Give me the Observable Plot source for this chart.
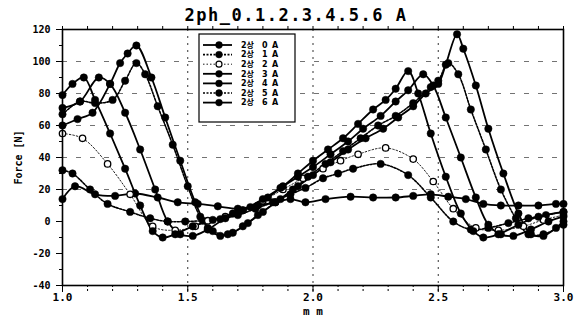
<!DOCTYPE html>
<html><head><meta charset="utf-8">
<script src="https://cdn.jsdelivr.net/npm/d3@7"></script>
<script src="https://cdn.jsdelivr.net/npm/@observablehq/plot@0.6"></script>
<style>body{margin:0;background:#fff}#chart{width:574px;height:320px}</style>
</head><body><div id="chart"></div>
<script>
const titleText = "2ph_0.1.2.3.4.5.6 A";
const xLabel = "m m";
const seriesPrefix = "2상";
const seriesCurrents = ["0", "1", "2", "3", "4", "5", "6"];
const seriesUnit = "A";
const xTicks = [1.0, 1.5, 2.0, 2.5, 3.0];
const yTicks = [-40, -20, 0, 20, 40, 60, 80, 100, 120];

const x0 = [1.0,1.05,1.13,1.21,1.29,1.38,1.46,1.54,1.62,1.70,1.78,1.85,1.91,1.97,2.05,2.15,2.24,2.33,2.40,2.47,2.54,2.61,2.68,2.75,2.82,2.90,2.97,3.0];
const f0 = [14,22,17,16,17.5,15,12,11,9.5,8,10,12,14,12,14,15.5,15,15,16,17,15.5,14,11,10,10,10,11,11];

const x1 = [1.0,1.04,1.11,1.18,1.27,1.35,1.42,1.49,1.56,1.63,1.70,1.77,1.84,1.91,1.97,2.04,2.10,2.16,2.27,2.38,2.47,2.56,2.63,2.70,2.78,2.86,2.93,3.0];
const f1 = [32,30,20,11,6,2,0,0,0.5,1.5,4,8,12,17,21,27,30,33,36,29,15,0,-5,-4,-1,2,4,6];

const x2 = [1.0,1.08,1.18,1.27,1.36,1.45,1.53,1.58,1.65,1.72,1.80,1.88,1.96,2.04,2.11,2.18,2.29,2.40,2.48,2.56,2.65,2.74,2.84,2.92,3.0];
const f2 = [55,52,36,17,-3,-5.5,-3,0.5,3,7,13,20,27,33,38,42,46,39,25,8,-4,-5.5,-3,1,4];

const x3 = [1.0,1.04,1.085,1.13,1.19,1.25,1.31,1.36,1.40,1.45,1.52,1.60,1.68,1.75,1.82,1.88,1.94,2.0,2.06,2.12,2.18,2.24,2.29,2.33,2.38,2.42,2.47,2.53,2.59,2.64,2.68,2.74,2.82,2.90,3.0];
const f3 = [79,86,90,76,55,33,10,-6,-10,-8,-3,1,5,9,15,22,30,38,45,52,61,70,76,83,94,80,55,28,5,-6,-10,-8,-2,3,6];

const x4 = [1.0,1.07,1.145,1.19,1.25,1.31,1.37,1.42,1.47,1.52,1.58,1.65,1.72,1.80,1.87,1.94,2.0,2.07,2.14,2.20,2.27,2.33,2.38,2.44,2.48,2.53,2.59,2.65,2.70,2.75,2.80,2.87,2.94,3.0];
const f4 = [71,75,90,86,68,45,20,0,-8,-9,-5,2,7,14,21,28,34,42,50,58,66,75,82,92,85,65,40,15,-2,-8,-9,-5,0,3];

const x5 = [1.0,1.07,1.13,1.20,1.25,1.295,1.33,1.38,1.44,1.50,1.55,1.60,1.66,1.72,1.78,1.85,1.92,1.98,2.05,2.12,2.19,2.26,2.33,2.40,2.47,2.50,2.54,2.58,2.63,2.69,2.75,2.81,2.86,2.92,3.0];
const f5 = [67,75,74,76,88,99,92,72,48,22,3,-6,-8,-3,4,12,20,28,36,44,52,60,66,74,84,88,99,92,70,45,20,2,-8,-8,-2];

const x6 = [1.0,1.06,1.12,1.19,1.23,1.26,1.295,1.355,1.41,1.47,1.53,1.58,1.63,1.68,1.74,1.80,1.87,1.94,2.0,2.07,2.14,2.21,2.28,2.34,2.40,2.45,2.50,2.53,2.575,2.60,2.65,2.70,2.76,2.82,2.87,2.92,2.97,3.0];
const f6 = [60,64,68,86,99,105,110,90,65,38,12,-4,-9,-7,-1,6,14,22,29,37,45,52,58,65,72,80,86,98,117,108,85,58,30,5,-8,-9,-4,0];

const xs = [x0,x1,x2,x3,x4,x5,x6];
const fs = [f0,f1,f2,f3,f4,f5,f6];
const styles = [
  {w:1.8, dash:null, hollow:false},
  {w:1.6, dash:"2,1.5", hollow:false},
  {w:0.9, dash:"1.5,2", hollow:true},
  {w:1.8, dash:null, hollow:false},
  {w:1.8, dash:null, hollow:false},
  {w:1.6, dash:"2,1.5", hollow:false},
  {w:1.8, dash:null, hollow:false}
];

const rows = [];
xs.forEach((arr, i) => arr.forEach((x, j) => rows.push({idx: i, x, f: fs[i][j]})));

const minorX = d3.range(1.0, 3.0001, 0.1);
const minorY = d3.range(-40, 120.001, 10);

const lineMarks = [];
const dotMarks = [];
styles.forEach((s, i) => {
  const data = rows.filter(d => d.idx === i);
  lineMarks.push(Plot.line(data, {x: "x", y: "f", curve: "catmull-rom", stroke: "#000", strokeWidth: s.w, strokeDasharray: s.dash || undefined}));
  dotMarks.push(Plot.dot(data, {x: "x", y: "f", r: s.hollow ? 3.2 : 3.7, fill: s.hollow ? "#fff" : "#000", stroke: "#000", strokeWidth: s.hollow ? 1.3 : 0.5}));
});

const plot = Plot.plot({
  width: 574, height: 320,
  marginLeft: 62, marginRight: 11, marginTop: 29, marginBottom: 35,
  style: {fontFamily: "DejaVu Sans Mono", fontSize: "10px", fontWeight: "bold", background: "#fff", color: "#000"},
  x: {domain: [1, 3]},
  y: {domain: [-40, 120]},
  marks: [
    Plot.gridY([20, 40, 60, 80, 100], {stroke: "#000", strokeOpacity: 0.55, strokeDasharray: "5,9"}),
    Plot.gridX([1.5, 2.0, 2.5], {stroke: "#000", strokeOpacity: 0.8, strokeDasharray: "2,5"}),
    Plot.axisX(minorX, {tickSize: 7, tickFormat: () => "", label: null, strokeDasharray: "2,2"}),
    Plot.axisX(minorX, {anchor: "top", tickSize: 4, tickFormat: () => "", label: null}),
    Plot.axisY(minorY, {tickSize: 3, tickFormat: () => "", label: null}),
    Plot.axisY(yTicks, {tickSize: 6, tickPadding: 6, tickFormat: d => String(d), fontSize: 10, label: "Force [N]", labelAnchor: "center", labelArrow: "none", labelOffset: 48}),
    Plot.axisX(xTicks, {tickSize: 7, tickPadding: 1, tickFormat: d => d.toFixed(1), fontSize: 11, label: null}),
    ...lineMarks,
    ...dotMarks,
    Plot.frame({stroke: "#000", strokeWidth: 1.6})
  ]
});
document.getElementById("chart").appendChild(plot);

const svg = d3.select(plot);
svg.append("text").attr("x", 296).attr("y", 21).attr("text-anchor", "middle").attr("fill", "#000")
  .style("font-family", "DejaVu Sans Mono").style("font-weight", "bold").style("font-size", "17px")
  .style("letter-spacing", "1.5px").text(titleText);
svg.append("text").attr("x", 313).attr("y", 315).attr("text-anchor", "middle").attr("fill", "#000")
  .style("font-family", "DejaVu Sans Mono").style("font-weight", "bold").style("font-size", "11px")
  .text(xLabel);

const lg = svg.append("g").attr("text-anchor", "start");
lg.append("rect").attr("x", 199).attr("y", 34).attr("width", 96).attr("height", 88)
  .attr("fill", "#fff").attr("stroke", "#000").attr("stroke-width", 1.2);
styles.forEach((s, i) => {
  const y = 45 + i * 9.6;
  lg.append("line").attr("x1", 203).attr("x2", 232).attr("y1", y).attr("y2", y)
    .attr("stroke", "#000").attr("stroke-width", s.w).attr("stroke-dasharray", s.dash);
  lg.append("circle").attr("cx", 219).attr("cy", y).attr("r", s.hollow ? 3 : 3.4)
    .attr("fill", s.hollow ? "#fff" : "#000").attr("stroke", "#000").attr("stroke-width", s.hollow ? 1.2 : 0.5);
  const font = "'DejaVu Sans', 'Noto Sans CJK KR'";
  lg.append("text").attr("x", 241).attr("y", y).attr("dy", "0.35em").attr("text-anchor", "start").attr("fill", "#000")
    .style("font-family", font).style("font-weight", "bold").style("font-size", "8px").text(seriesPrefix);
  lg.append("text").attr("x", 262).attr("y", y).attr("dy", "0.35em").attr("text-anchor", "start").attr("fill", "#000")
    .style("font-family", font).style("font-weight", "bold").style("font-size", "8px").text(seriesCurrents[i]);
  lg.append("text").attr("x", 272).attr("y", y).attr("dy", "0.35em").attr("text-anchor", "start").attr("fill", "#000")
    .style("font-family", font).style("font-weight", "bold").style("font-size", "8px").text(seriesUnit);
});
</script>
</body></html>
